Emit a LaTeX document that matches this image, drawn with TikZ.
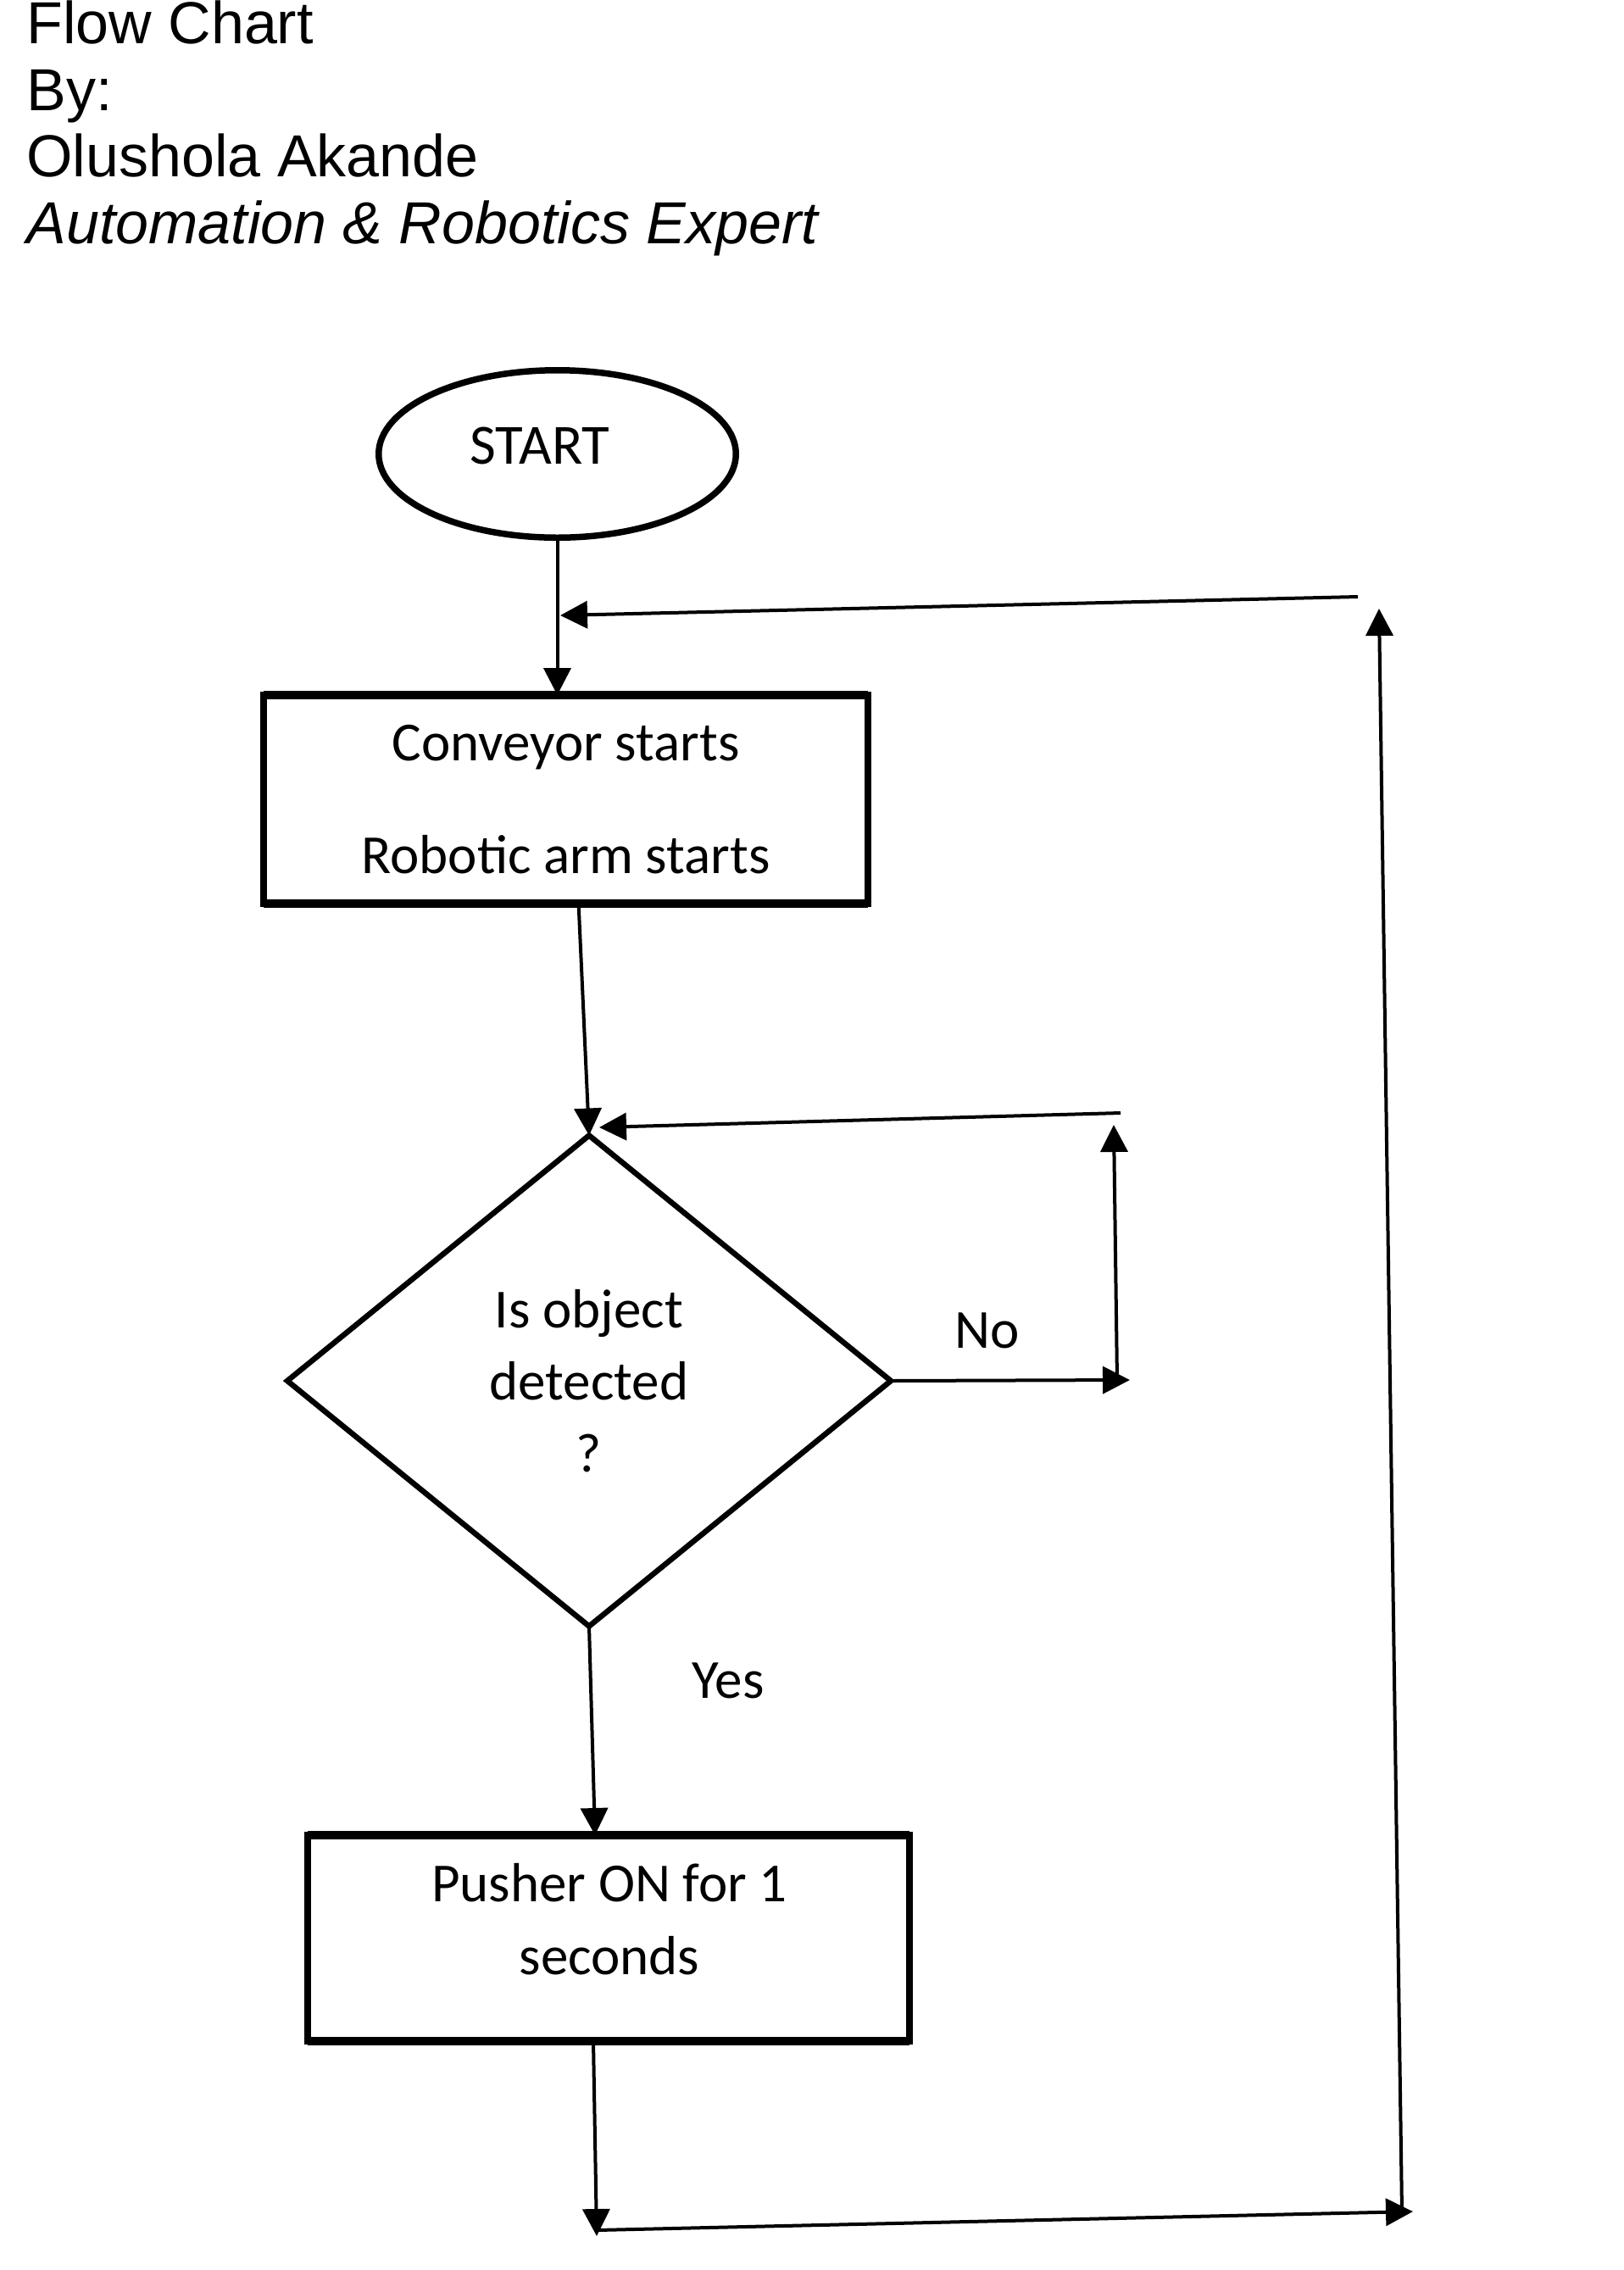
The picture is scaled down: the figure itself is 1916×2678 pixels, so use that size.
\documentclass[tikz,border=0pt]{standalone}
\usepackage{fontspec}
\setmainfont{Carlito}
\newfontfamily\titlefont{Liberation Sans}
\usetikzlibrary{shapes.geometric,arrows.meta,calc}
\begin{document}
\begin{tikzpicture}[x=0.5pt,y=-0.5pt,
  conn/.style={line width=2pt,-{Triangle[length=16pt,width=16pt]}},
  titleline/.style={anchor=base west,inner sep=0pt,font=\titlefont\fontsize{35pt}{42pt}\selectfont},
  lbl/.style={anchor=base,inner sep=0pt,font=\fontsize{32.5pt}{39pt}\selectfont},
  terminal/.style={draw,ellipse,line width=3.75pt,inner sep=0pt,outer sep=0pt,
    minimum width=210.75pt,minimum height=98.75pt},
  stepbox/.style={draw,rectangle,line width=4.25pt,inner sep=0pt,outer sep=0pt,
    minimum width=356.4pt,minimum height=123pt,align=center,
    font=\fontsize{32.5pt}{66.5pt}\selectfont},
  decision/.style={draw,diamond,line width=3.25pt,inner sep=0pt,outer sep=0pt,
    minimum width=356pt,minimum height=289.5pt,align=center,
    font=\fontsize{32.5pt}{42.5pt}\selectfont},
  boxtext/.style={align=center,inner sep=0pt,font=\fontsize{32.5pt}{43pt}\selectfont},
  heavyedge/.style={line width=5pt}
]
\useasboundingbox (0,0) rectangle (1916,2678);

% heading
\node[titleline] (t1) at (31,51) {Flow Chart};
\node[titleline] (t2) at (31,130) {By:};
\node[titleline] (t3) at (31,208) {Olushola Akande};
\node[titleline] (t4) at (31,287) {\itshape Automation \& Robotics Expert};

% flowchart shapes
\node[terminal] (start) at (657.5,535.5) {};
\node[lbl,font=\fontsize{33.5pt}{40pt}\selectfont] (startt) at (637,547) {START};
\node[stepbox] (b1) at (667.6,943) {Conveyor starts\\Robotic arm starts};
\node[decision] (dia) at (695,1629) {Is object\\detected\\?};
\node[stepbox,minimum width=355pt,minimum height=121.5pt] (b3) at (718,2286.5) {};
\node[boxtext] (b3t) at (719,2264) {Pusher ON for 1\\seconds};

% heavier top and bottom rules of the boxes
\foreach \b in {b1,b3}{
  \draw[heavyedge] (\b.north west) -- (\b.north east);
  \draw[heavyedge] (\b.south west) -- (\b.south east);
}

% labels
\node[lbl] (no) at (1165,1590) {No};
\node[lbl] (yes) at (859,2003) {Yes};

% connector end points
\coordinate (topR) at (1602,704);
\coordinate (topL) at (661,726);
\coordinate (noR) at (1333,1628);
\coordinate (noV) at (1318,1628);
\coordinate (noT) at (1314,1327);
\coordinate (noTR) at (1322,1313);
\coordinate (noEnd) at (707,1330);
\coordinate (botL) at (704,2638);
\coordinate (botS) at (704,2631);
\coordinate (botR) at (1667,2609);
\coordinate (rvB) at (1654,2609);
\coordinate (rvT) at (1627,718);

% connectors
\draw[conn] (start.south) -- (start.south |- b1.north);
\draw[conn] ($(b1.south)+(15,0)$) -- (dia.north);
\draw[conn] (dia.east) -- (noR);
\draw[conn] (noV) -- (noT);
\draw[conn] (noTR) -- (noEnd);
\draw[conn] (dia.south) -- ($(b3.north)+(-16,0)$);
\draw[conn] ($(b3.south)+(-18,0)$) -- (botL);
\draw[conn] (botS) -- (botR);
\draw[conn] (rvB) -- (rvT);
\draw[conn] (topR) -- (topL);
\end{tikzpicture}
\end{document}
